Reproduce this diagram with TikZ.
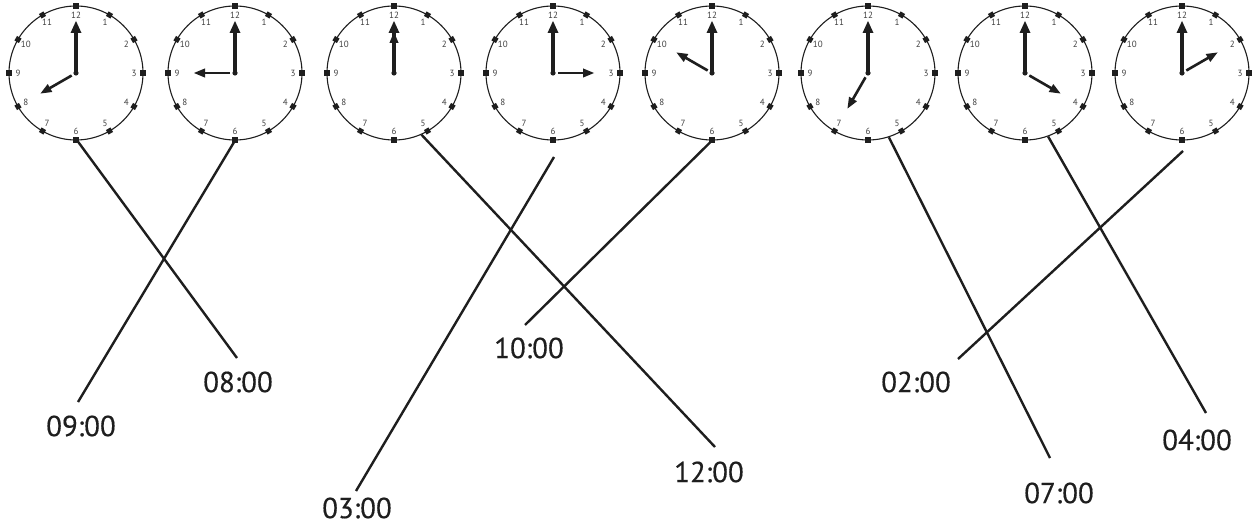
\documentclass[tikz,border=0pt]{standalone}
\usepackage{fontspec}
\setmainfont{PT Sans}
\newfontfamily\lblfont[FakeBold=0.4]{PT Sans}
\usetikzlibrary{calc}
\definecolor{ink}{HTML}{1E1E1E}
\tikzset{
  face/.style={circle, draw=ink, line width=1.1pt, minimum size=134pt, inner sep=0pt},
  num/.style={font=\fontsize{9}{9}\selectfont, text=ink!85, inner sep=0pt},
  conn/.style={draw=ink, line width=2.4pt},
  lbl/.style={font=\lblfont\fontsize{29}{29}\selectfont, text=ink, inner sep=0pt},
  pics/clock/.style={code={
    \node[face] (face) at (0,0) {};
    \foreach \h in {1,...,12}{
      \fill[ink, rotate=90-\h*30] (67,0) ++(-2.6,-2.6) rectangle ++(5.2,5.2);
      \path[rotate=90-\h*30] (58,0) node[num] {\h};
    }
    \draw[ink, line width=3.4pt, rotate=90] (0,0) -- (41,0);
    \fill[ink, rotate=90] (52,0) -- (40,5.5) -- (40,-5.5) -- cycle;
    \draw[ink, line width=2.6pt, rotate=90-#1*30] (5,0) -- (31,0);
    \fill[ink, rotate=90-#1*30] (41,0) -- (30,4.6) -- (30,-4.6) -- cycle;
    \fill[ink] (0,0) circle[radius=2.6pt];
  }}
}
\begin{document}
\begin{tikzpicture}[x=1pt, y=-1pt]
\useasboundingbox (0,0) rectangle (1257,526);
\fill[white] (0,0) rectangle (1257,526);
% clocks
\pic (k1) at (76,73) {clock=8};
\pic (k2) at (235,73) {clock=9};
\pic (k3) at (394,73) {clock=12};
\pic (k4) at (553,73) {clock=3};
\pic (k5) at (712,73) {clock=10};
\pic (k6) at (868,73) {clock=7};
\pic (k7) at (1025,73) {clock=4};
\pic (k8) at (1182,73) {clock=2};
% labels
\node[lbl] (t8) at (238,382) {08:00};
\node[lbl] (t9) at (81,426) {09:00};
\node[lbl] (t12) at (709,472) {12:00};
\node[lbl] (t3) at (357,508) {03:00};
\node[lbl] (t10) at (529,348) {10:00};
\node[lbl] (t7) at (1059,493) {07:00};
\node[lbl] (t4) at (1197,440) {04:00};
\node[lbl] (t2) at (916,382) {02:00};
% connector end points
\coordinate (s4) at (554,157);
\coordinate (s8) at (1183,151);
\coordinate (e8) at (237,358);
\coordinate (e9) at (78,402);
\coordinate (e12) at (715,447);
\coordinate (e3) at (356,491);
\coordinate (e10) at (525,325);
\coordinate (e7) at (1050,458);
\coordinate (e4) at (1206,413);
\coordinate (e2) at (958,359);
% connectors
\draw[conn] (k1face.-89) -- (e8);
\draw[conn] (k2face.south) -- (e9);
\draw[conn] (k3face.-66) -- (e12);
\draw[conn] (s4) -- (e3);
\draw[conn] (k5face.south) -- (e10);
\draw[conn] (k6face.-72) -- (e7);
\draw[conn] (k7face.-70) -- (e4);
\draw[conn] (s8) -- (e2);
\end{tikzpicture}
\end{document}
